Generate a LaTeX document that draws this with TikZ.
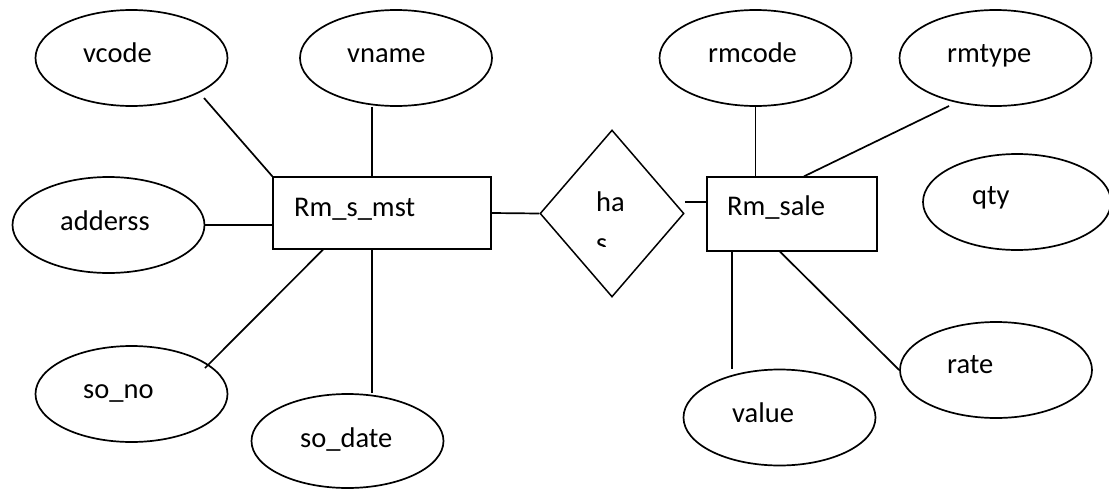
\documentclass[tikz,border=0pt]{standalone}
\usepackage{fontspec}
\setmainfont{Carlito}
\usetikzlibrary{shapes.geometric,calc}
\tikzset{
  txt/.style={font=\fontsize{28.5}{34}\selectfont, inner sep=0pt, anchor=base west},
  attr/.style={draw, ellipse, line width=1.7pt, minimum width=192pt, minimum height=96pt, inner sep=0pt},
  entity/.style={draw, rectangle, line width=1.3pt, inner sep=0pt},
  rel/.style={draw, diamond, line width=1.5pt, inner sep=0pt, minimum width=144pt, minimum height=167pt},
  link/.style={line width=1.7pt}
}
\begin{document}
\begin{tikzpicture}[x=1pt, y=-1pt]
\useasboundingbox (0,0) rectangle (1109,490);

% entities
\node[entity, minimum width=218pt, minimum height=72pt] (mst) at (382,213) {};
\node[entity, minimum width=170pt, minimum height=74pt] (sale) at (792,214) {};

% relationship
\node[rel] (has) at (612,213.5) {};

% attributes of Rm_s_mst
\node[attr] (vcode) at (131.5,58) {};
\node[attr] (vname) at (396,58) {};
\node[attr] (adderss) at (108.5,225) {};
\node[attr] (sono) at (131.5,394) {};
\node[attr, minimum height=94pt] (sodate) at (347.5,441) {};

% attributes of Rm_sale
\node[attr] (rmcode) at (755.5,58) {};
\node[attr] (rmtype) at (995.5,58) {};
\node[attr, minimum width=188pt] (qty) at (1017,202) {};
\node[attr] (rate) at (996,370) {};
\node[attr] (value) at (779.5,417.5) {};

% labels
\node[txt] (tvcode) at (83,62) {vcode};
\node[txt] (tvname) at (347,62) {vname};
\node[txt] (tadderss) at (60,230) {adderss};
\node[txt] (tmst) at (294,216) {Rm\_s\_mst};
\node[txt] (tsono) at (83,398) {so\_no};
\node[txt] (tsodate) at (300,447) {so\_date};
\node[txt] (trmcode) at (708,62) {rmcode};
\node[txt] (trmtype) at (947,62) {rmtype};
\node[txt] (tsale) at (727,215) {Rm\_sale};
\node[txt] (tqty) at (972,204) {qty};
\node[txt] (trate) at (947,373) {rate};
\node[txt] (tvalue) at (732,422) {value};
\node[txt] (tha) at (596,211) {ha};
\begin{scope}
  \clip (540,120) rectangle (684,246);
  \node[txt] (ts) at (596,252.5) {s};
\end{scope}

% connectors around Rm_s_mst
\draw[link] ($(vcode)+(72.5,40)$) -- (mst.north west);
\draw[link] ($(vname.south)+(-24,0)$) -- ($(mst.north)+(-10,0)$);
\draw[link] (adderss.east) -- (adderss.east -| mst.west);
\draw[link] ($(mst.south)+(-59,0)$) -- ($(sono)+(73.5,-26)$);
\draw[link] ($(mst.south)+(-10,0)$) coordinate (sd) -- (sd |- sodate.north);
\draw[link] (mst.east) -- (has.west);

% connectors around Rm_sale
\draw[link] ($(has.east)+(0,-11.5)$) coordinate (hs) -- (hs -| sale.west);
\draw[link] (rmcode.south) -- (rmcode.south |- sale.north);
\draw[link] ($(rmtype)+(-46.5,48)$) -- ($(sale.north)+(12,0)$);
\draw[link] ($(sale.south)+(-60,0)$) coordinate (vl) -- (vl |- value.north);
\draw[link] ($(sale.south)+(-12,0)$) -- (rate.west);
\end{tikzpicture}
\end{document}
